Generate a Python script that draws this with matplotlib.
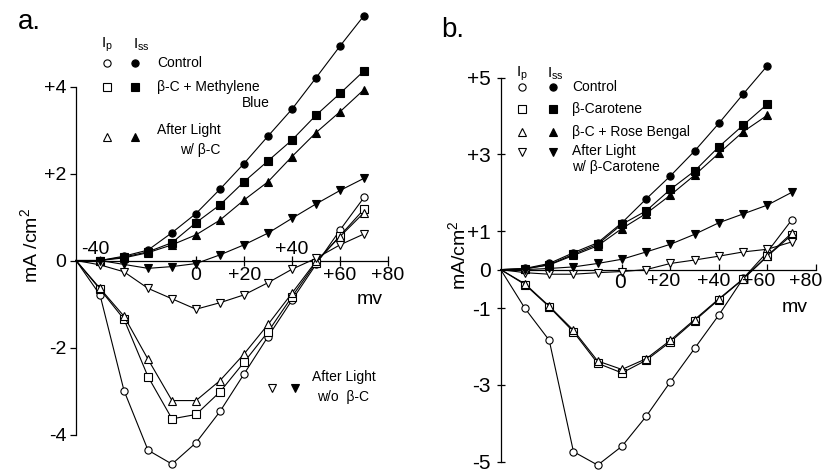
import matplotlib
matplotlib.use('Agg')
import matplotlib.pyplot as plt
from matplotlib.lines import Line2D

plt.rcParams['font.family'] = ['Liberation Sans', 'DejaVu Sans']
plt.rcParams['mathtext.fontset'] = 'custom'
plt.rcParams['mathtext.rm'] = 'Liberation Sans'
plt.rcParams['mathtext.it'] = 'Liberation Sans'

# membrane potential (mV); first point is the origin of every curve
mv = [-50, -40, -30, -20, -10, 0, 10, 20, 30, 40, 50, 60, 70]
mv_b60 = mv[:-1]

# ---- panel a ----
a_ctrl_ip = [0, -0.79, -2.99, -4.36, -4.68, -4.19, -3.47, -2.61, -1.75, -0.91, -0.09, 0.70, 1.45]
a_ctrl_iss = [0, 0.0, 0.10, 0.24, 0.64, 1.08, 1.64, 2.23, 2.86, 3.48, 4.20, 4.93, 5.63]
a_mb_ip = [0, -0.66, -1.35, -2.67, -3.64, -3.54, -3.02, -2.34, -1.64, -0.83, -0.05, 0.57, 1.18]
a_mb_iss = [0, 0.0, 0.08, 0.20, 0.41, 0.87, 1.28, 1.81, 2.29, 2.77, 3.34, 3.84, 4.36]
a_lw_ip = [0, -0.64, -1.28, -2.27, -3.22, -3.22, -2.76, -2.15, -1.47, -0.75, -0.02, 0.55, 1.10]
a_lw_iss = [0, 0.0, 0.06, 0.18, 0.36, 0.59, 0.93, 1.39, 1.81, 2.39, 2.94, 3.42, 3.93]
a_lwo_ip = [0, -0.10, -0.26, -0.64, -0.88, -1.12, -0.97, -0.79, -0.51, -0.20, 0.05, 0.36, 0.61]
a_lwo_iss = [0, 0.0, -0.09, -0.18, -0.14, -0.07, 0.13, 0.36, 0.63, 0.97, 1.30, 1.61, 1.89]

# ---- panel b ----
b_ctrl_ip = [0, -1.01, -1.84, -4.74, -5.09, -4.60, -3.82, -2.92, -2.05, -1.18, -0.23, 0.46, 1.29]
b_ctrl_iss = [0, 0.03, 0.16, 0.44, 0.70, 1.22, 1.84, 2.44, 3.09, 3.81, 4.57, 5.31]
b_bc_ip = [0, -0.39, -0.97, -1.62, -2.44, -2.69, -2.36, -1.88, -1.33, -0.78, -0.25, 0.35, 0.90]
b_bc_iss = [0, 0.02, 0.13, 0.40, 0.66, 1.18, 1.53, 2.09, 2.57, 3.20, 3.76, 4.31]
b_rb_ip = [0, -0.37, -0.95, -1.58, -2.38, -2.60, -2.32, -1.84, -1.30, -0.76, -0.24, 0.36, 0.95]
b_rb_iss = [0, 0.02, 0.12, 0.37, 0.62, 1.07, 1.46, 1.94, 2.46, 3.03, 3.59, 4.02]
b_lt_ip = [0, -0.08, -0.12, -0.12, -0.08, -0.05, 0.0, 0.16, 0.25, 0.35, 0.46, 0.53, 0.72]
b_lt_iss = [0, 0.0, 0.03, 0.07, 0.16, 0.27, 0.46, 0.66, 0.92, 1.22, 1.45, 1.68, 2.01]

W, H = 828, 472
fig = plt.figure(figsize=(W / 100, H / 100), dpi=100)


def fx(px):
    return px / W


def fy(py):
    return 1 - py / H


def curve(ax, x, y, marker, filled):
    ax.plot(x, y, color='black', lw=0.8, marker=marker, ms=5.2,
            mfc='black' if filled else 'white', mec='black', mew=0.8,
            markevery=slice(1, None), zorder=3)


def key(px, py, marker, filled):
    fig.add_artist(Line2D([fx(px)], [fy(py)], marker=marker, ms=5.2, ls='none',
                          mfc='black' if filled else 'white', mec='black', mew=0.8))


def label(px, py, s, size=10, ha='left'):
    fig.text(fx(px), fy(py), s, fontsize=size, ha=ha, va='center')


def frame(ax, ybounds):
    for s in ['top', 'right']:
        ax.spines[s].set_visible(False)
    ax.spines['left'].set_position(('data', -50))
    ax.spines['left'].set_bounds(*ybounds)
    ax.spines['bottom'].set_position(('data', 0))
    ax.spines['bottom'].set_bounds(-50, 80)
    for s in ['left', 'bottom']:
        ax.spines[s].set_linewidth(0.9)
    ax.patch.set_visible(False)


# ================= panel a =================
ax = fig.add_axes([fx(40), 0, fx(360), 1])
ax.set_xlim(-65, 85)
ax.set_ylim(-4.862, 5.989)
frame(ax, (-4, 4))
ax.set_yticks([-4, -2, 0, 2, 4])
ax.set_yticklabels(['-4', '-2', '0', '+2', '+4'], fontsize=14)
ax.tick_params(axis='y', direction='out', length=4, width=0.9, pad=3)
ax.set_xticks([-40, 0, 20, 40, 60, 80])
ax.set_xticklabels([])
ax.tick_params(axis='x', direction='inout', length=7, width=0.9)

curve(ax, mv, a_ctrl_ip, 'o', False)
curve(ax, mv, a_ctrl_iss, 'o', True)
curve(ax, mv, a_mb_ip, 's', False)
curve(ax, mv, a_mb_iss, 's', True)
curve(ax, mv, a_lw_ip, '^', False)
curve(ax, mv, a_lw_iss, '^', True)
curve(ax, mv, a_lwo_ip, 'v', False)
curve(ax, mv, a_lwo_iss, 'v', True)

label(95, 249, '-40', 14, 'center')
label(292, 249, '+40', 14, 'center')
label(196, 276, '0', 14, 'center')
label(245, 276, '+20', 14, 'center')
label(340, 276, '+60', 14, 'center')
label(388, 276, '+80', 14, 'center')
label(370, 300, 'mv', 14, 'center')
fig.text(fx(30), fy(245), 'mA /cm$^2$', fontsize=14, rotation=90,
         ha='center', va='center')
label(18, 22, 'a.', 20)

label(107, 45, r'$\mathregular{I_p}$', 11, 'center')
label(141, 45, r'$\mathregular{I_{ss}}$', 11, 'center')
key(107, 63, 'o', False); key(135, 63, 'o', True)
label(157, 63, 'Control')
key(107, 87, 's', False); key(135, 87, 's', True)
label(157, 87, 'β-C + Methylene')
label(270, 103, 'Blue', ha='right')
key(107, 137, '^', False); key(135, 137, '^', True)
label(157, 130, 'After Light')
label(180, 150, 'w/ β-C')
key(272, 388, 'v', False); key(295, 388, 'v', True)
label(312, 377, 'After Light')
label(317, 397, 'w/o  β-C')

# ================= panel b =================
bx = fig.add_axes([fx(460), 0, fx(368), 1])
bx.set_xlim(-66.8, 85.0)
bx.set_ylim(-5.27, 7.02)
frame(bx, (-5, 5))
bx.set_yticks([-5, -3, -1, 0, 1, 3, 5])
bx.set_yticklabels(['-5', '-3', '-1', '0', '+1', '+3', '+5'], fontsize=15)
bx.tick_params(axis='y', direction='inout', length=6, width=0.9, pad=4)
bx.set_xticks([0, 20, 40, 60, 80])
bx.set_xticklabels([])
bx.tick_params(axis='x', direction='in', length=4, width=0.9)

curve(bx, mv, b_ctrl_ip, 'o', False)
curve(bx, mv_b60, b_ctrl_iss, 'o', True)
curve(bx, mv, b_bc_ip, 's', False)
curve(bx, mv_b60, b_bc_iss, 's', True)
curve(bx, mv, b_rb_ip, '^', False)
curve(bx, mv_b60, b_rb_iss, '^', True)
curve(bx, mv, b_lt_ip, 'v', False)
curve(bx, mv, b_lt_iss, 'v', True)

label(620, 282, '0', 15, 'center')
label(664, 282, '+20', 14, 'center')
label(714, 282, '+40', 14, 'center')
label(759, 282, '+60', 14, 'center')
label(806, 282, '+80', 14, 'center')
label(795, 307, 'mv', 14, 'center')
fig.text(fx(458), fy(255), 'mA/cm$^2$', fontsize=14, rotation=90,
         ha='center', va='center')
label(441, 30, 'b.', 20)

label(522, 74, r'$\mathregular{I_p}$', 11, 'center')
label(555, 74, r'$\mathregular{I_{ss}}$', 11, 'center')
key(522, 87, 'o', False); key(553, 87, 'o', True)
label(572, 87, 'Control')
key(522, 109, 's', False); key(553, 109, 's', True)
label(572, 109, 'β-Carotene')
key(522, 132, '^', False); key(553, 132, '^', True)
label(572, 132, 'β-C + Rose Bengal')
key(522, 152, 'v', False); key(553, 152, 'v', True)
label(572, 151, 'After Light')
label(572, 167, 'w/ β-Carotene')

fig.savefig('out.png', dpi=100)
